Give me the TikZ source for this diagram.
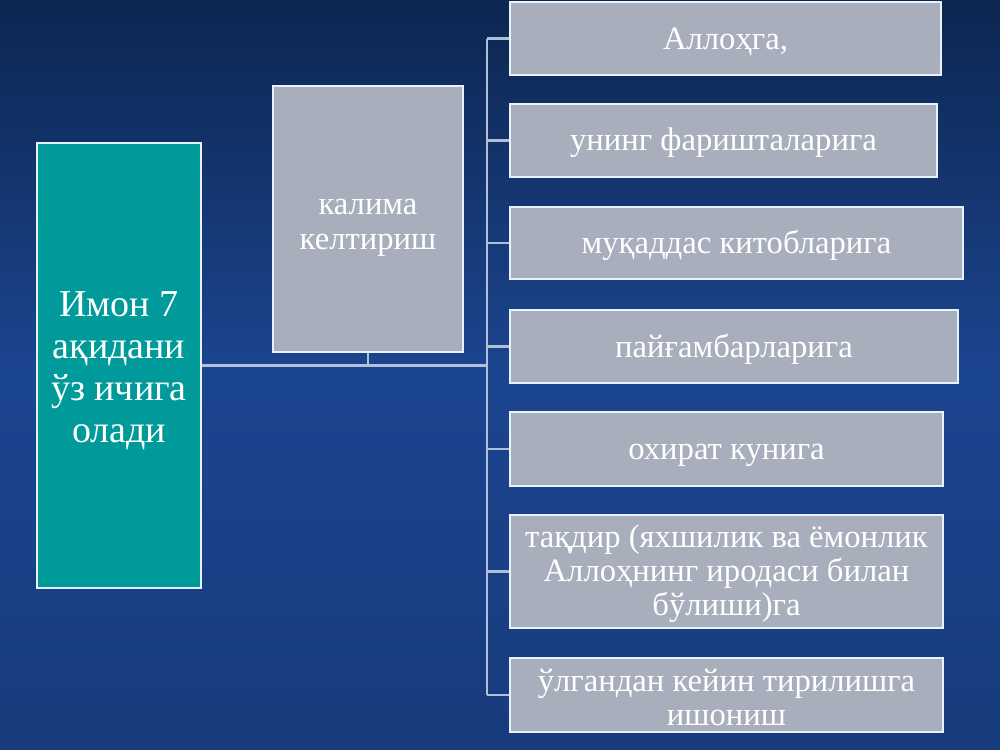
\documentclass[tikz,border=0pt]{standalone}
\usepackage{fontspec}
\setmainfont{Liberation Serif}
\definecolor{bgtop}{HTML}{0C2650}
\definecolor{bgmid}{HTML}{1C4590}
\definecolor{bgbot}{HTML}{173B7C}
\definecolor{tealbox}{HTML}{009A9A}
\definecolor{greybox}{HTML}{A8AEBC}
\definecolor{edge}{HTML}{E6F3FF}
\definecolor{linkc}{HTML}{AFC0D8}
\newcommand{\upstrut}[1]{\rule{0pt}{#1}}
\tikzset{
  boxbase/.style={draw=edge, line width=1.6pt, text=white, align=center, inner sep=2pt},
  rbox/.style={boxbase, fill=greybox, font=\fontsize{24.5pt}{25.5pt}\selectfont},
  tbox/.style={boxbase, fill=tealbox, font=\fontsize{28.5pt}{31.5pt}\selectfont},
  kbox/.style={boxbase, fill=greybox, font=\fontsize{24.5pt}{26.5pt}\selectfont},
  link/.style={draw=linkc, line width=2pt}
}
\begin{document}
\begin{tikzpicture}[x=0.75pt,y=-0.75pt]
\shade[top color=bgtop, bottom color=bgbot, middle color=bgmid] (0,0) rectangle (1000,750);
\useasboundingbox (0,0) rectangle (1000,750);
\node[tbox, minimum width=123pt, minimum height=333.75pt] (teal) at (119,365.5) {\upstrut{26pt}Имон 7\\ақидани\\ўз ичига\\олади};
\node[kbox, minimum width=142.5pt, minimum height=199.5pt] (kal) at (368,219) {\upstrut{25pt}калима\\келтириш};
\node[rbox, minimum width=323.25pt, minimum height=54.75pt] (r1) at (725.5,38.5) {\upstrut{21pt}Аллоҳга,};
\node[rbox, minimum width=320.25pt, minimum height=54.75pt] (r2) at (723.5,140.5) {\upstrut{21pt}унинг фаришталарига};
\node[rbox, minimum width=339.75pt, minimum height=54pt] (r3) at (736.5,243) {\upstrut{21pt}муқаддас\ китобларига};
\node[rbox, minimum width=336pt, minimum height=54.75pt] (r4) at (734,346.5) {\upstrut{21pt}пайғамбарларига};
\node[rbox, minimum width=324.75pt, minimum height=55.5pt] (r5) at (726.5,449) {\upstrut{21pt}охират кунига};
\node[rbox, minimum width=324.75pt, minimum height=84.75pt] (r6) at (726.5,571.5) {\upstrut{21pt}тақдир (яхшилик ва ёмонлик\\Аллоҳнинг иродаси билан\\бўлиши)га};
\node[rbox, minimum width=324.75pt, minimum height=55.5pt] (r7) at (726.5,695) {\upstrut{21pt}ўлгандан кейин тирилишга\\ишониш};
\coordinate (ttop) at (487,38.5);
\coordinate (tbot) at (487,695);
\draw[link] (ttop) -- (tbot);
\foreach \r in {r1,r2,r3,r4,r5,r6,r7} \draw[link] (\r.west) -- (\r.west -| ttop);
\draw[link] (teal.east) -- (teal.east -| ttop);
\draw[link] (kal.south) -- (kal.south |- teal.east);
\end{tikzpicture}
\end{document}
